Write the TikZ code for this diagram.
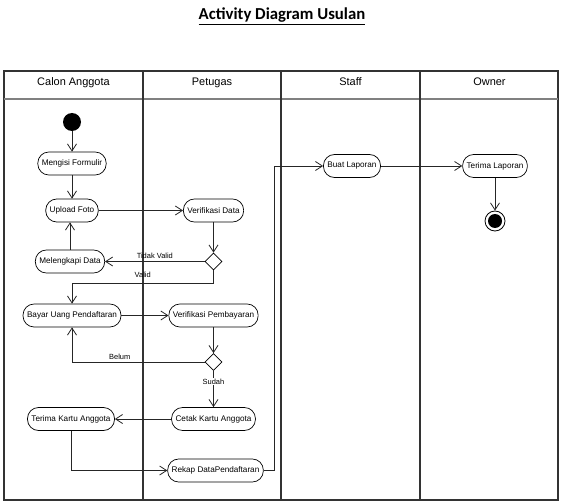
\documentclass[tikz,border=0pt]{standalone}
\usepackage{fontspec}
\setmainfont{Liberation Sans}
\newfontfamily\titlefont{Carlito}
\usetikzlibrary{arrows.meta}
\usetikzlibrary{shapes.geometric}

\begin{document}
\begin{tikzpicture}[x=1bp,y=-1bp,
    act/.style={draw,rectangle,rounded corners=11bp,minimum height=23bp,inner xsep=4bp,inner ysep=0pt,line width=0.7bp,font=\fontsize{8.2}{9}\selectfont},
    cek/.style={draw,diamond,minimum size=17bp,inner sep=0pt,line width=0.7bp},
    flow/.style={line width=0.8bp,draw=black!85,arrows={-Straight Barb[length=7bp,width=9bp]}},
    guard/.style={inner sep=1bp,font=\fontsize{7.5}{9}\selectfont},
    lane/.style={line width=1.4bp,draw=black!80}]
    \useasboundingbox [fill=white] (0,0) rectangle (563,504);
    \node [anchor=base,font=\titlefont\fontsize{16.8}{18}\selectfont\bfseries] (title) at (282,20) {\underline{Activity Diagram Usulan}};

    % swimlanes
    \draw [line width=1.3bp,draw=black!80] (4,71) rectangle (558,500);
    \draw [line width=2.2bp,draw=black!50] (4,99) -- (558,99);
    \foreach \x in {143,281,420}
      \draw [lane] (\x,71) -- (\x,500);
    \foreach \x/\name [count=\i] in {73.5/Calon Anggota,212/Petugas,350.5/Staff,489.5/Owner}
      \node [anchor=base,font=\fontsize{11}{13}\selectfont] (lane\i) at (\x,85.5) {\name};

    % activities
    \node [circle,fill=black,minimum size=18bp,inner sep=0pt] (start) at (72,122) {};
    \node [act] (mengisi)     at (72,163.5)  {Mengisi Formulir};
    \node [act] (upload)      at (72,210.5)  {Upload Foto};
    \node [act] (verdata)     at (213.5,210.5) {Verifikasi Data};
    \node [cek] (cek1)        at (213.5,261.5) {};
    \node [act] (melengkapi)  at (70,261.5)  {Melengkapi Data};
    \node [act] (bayar)       at (72,315.5)  {Bayar Uang Pendaftaran};
    \node [act] (verbayar)    at (213.5,315.5) {Verifikasi Pembayaran};
    \node [cek] (cek2)        at (213.5,362) {};
    \node [act] (cetak)       at (213.5,419) {Cetak Kartu Anggota};
    \node [act] (terimakartu) at (71,419)    {Terima Kartu Anggota};
    \node [act] (rekap)       at (215.5,470.5) {Rekap DataPendaftaran};
    \node [act] (buat)        at (352,166)   {Buat Laporan};
    \node [act] (terimalap)   at (495,166)   {Terima Laporan};
    \node [circle,draw,line width=0.8bp,minimum size=20bp,inner sep=0pt,
           path picture={\fill (path picture bounding box.center) circle [radius=7bp];}] (finish) at (495,221) {};

    % flows
    \draw [flow] (start) -- (mengisi);
    \draw [flow] (mengisi) -- (upload);
    \draw [flow] (upload) -- (verdata);
    \draw [flow] (verdata) -- (cek1);
    \draw [flow] (cek1) -- node [guard,above=2bp] (tidakvalid) {Tidak Valid} (melengkapi);
    \draw [flow] (melengkapi.north) -- (melengkapi.north |- upload.south);
    \coordinate (validturn) at (213.5,283);
    \draw [flow] (cek1) -- (validturn) -| node [guard,pos=0.25,above=4bp] (valid) {Valid} (bayar);
    \draw [flow] (bayar) -- (verbayar);
    \draw [flow] (verbayar) -- (cek2);
    \draw [flow] (cek2) -| node [guard,pos=0.32,above=1.5bp] (belum) {Belum} (bayar);
    \draw [flow] (cek2) -- node [guard,pos=0.3,fill=white] (sudah) {Sudah} (cetak);
    \draw [flow] (cetak) -- (terimakartu);
    \draw [flow] (terimakartu) |- (rekap);
    \coordinate (rekapturn) at (274,470.5);
    \draw [flow] (rekap) -- (rekapturn) |- (buat);
    \draw [flow] (buat) -- (terimalap);
    \draw [flow] (terimalap) -- (finish);
\end{tikzpicture}
\end{document}
